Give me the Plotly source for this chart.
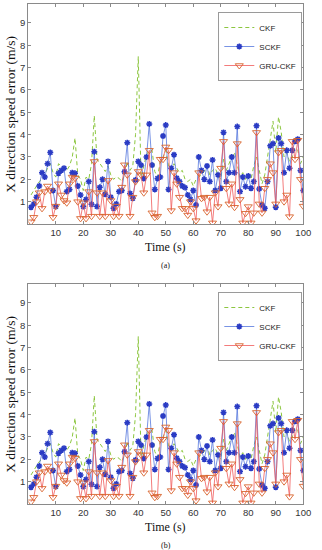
import plotly.graph_objects as go

x_time = list(range(1, 101))

ckf = [1.3, 1.5, 1.7, 1.9, 2.0, 2.2, 2.5, 2.7, 2.3, 2.1,
       2.7, 2.6, 2.5, 2.4, 2.6, 3.0, 3.85, 2.2, 2.0, 1.5,
       2.1, 2.0, 2.7, 4.85, 2.9, 2.7, 2.5, 2.35, 2.6, 2.2,
       2.0, 2.1, 2.05, 1.9, 2.2, 2.8, 2.4, 2.6, 4.0, 7.5,
       2.1, 2.6, 3.1, 3.3, 3.3, 2.35, 2.1, 2.8, 3.0, 3.3,
       2.6, 2.4, 2.7, 2.5, 2.3, 2.4, 2.0, 1.9, 2.0, 1.7,
       2.0, 2.1, 2.2, 2.35, 2.6, 2.2, 2.4, 2.5, 2.2, 2.0,
       2.9, 2.4, 2.7, 3.0, 3.2, 2.6, 2.1, 2.3, 2.0, 2.2,
       2.0, 2.6, 3.0, 2.4, 1.8, 2.2, 3.0, 3.9, 4.6, 3.2,
       4.8, 4.1, 3.0, 3.2, 2.8, 3.0, 3.4, 3.3, 2.7, 3.0]

sckf = [0.75, 0.9, 1.2, 1.7, 2.3, 2.1, 2.7, 3.2, 1.5, 0.78,
        2.27, 2.4, 2.5, 1.45, 1.55, 2.3, 2.27, 1.7, 1.3, 0.78,
        1.1, 1.9, 0.88, 3.24, 0.78, 1.64, 2.0, 1.33, 2.8, 1.2,
        0.7, 0.9, 1.45, 1.5, 2.34, 3.64, 1.37, 1.15, 1.97, 2.8,
        2.64, 2.04, 3.0, 4.48, 2.64, 1.55, 2.04, 2.1, 3.94, 4.43,
        1.55, 2.5, 3.1, 2.05, 1.9, 1.7, 1.63, 1.3, 1.1, 1.5,
        0.85, 3.0, 2.4, 2.0, 2.6, 1.9, 2.87, 1.5, 2.2, 1.6,
        4.1, 1.9, 2.3, 3.0, 2.3, 4.36, 1.45, 2.1, 1.67, 2.15,
        1.6, 1.9, 4.4, 1.57, 0.85, 0.7, 1.9, 3.5, 3.6, 0.75,
        3.85, 3.6, 2.3, 3.3, 2.5, 3.3, 3.7, 3.8, 2.4, 1.5]

gru_ckf = [0.1, 0.3, 1.0, 1.4, 0.7, 1.45, 1.7, 1.5, 0.3, 0.8,
           1.8, 1.3, 1.05, 0.95, 1.8, 2.1, 2.05, 1.0, 0.25, 0.95,
           0.25, 1.45, 0.35, 2.8, 1.4, 0.35, 1.4, 0.35, 1.95, 1.05,
           0.35, 0.8, 0.35, 1.65, 2.65, 2.2, 0.35, 1.2, 1.9, 2.35,
           2.2, 1.4, 2.2, 3.3, 0.5, 0.3, 0.35, 2.9, 2.9, 3.45,
           3.3, 0.6, 2.3, 1.8, 1.2, 0.7, 0.7, 0.4, 1.0, 0.7,
           0.15, 2.3, 1.15, 1.2, 0.55, 1.2, 0.05, 1.4, 0.78, 2.5,
           3.7, 1.6, 0.9, 1.8, 0.75, 3.6, 1.1, 0.05, 0.48, 0.78,
           0.05, 0.5, 4.1, 0.9, 0.5, 1.6, 2.0, 2.7, 2.3, 0.9,
           3.2, 3.3, 1.0, 1.3, 0.33, 3.7, 2.9, 3.75, 2.0, 0.8]

x_ticks = [10, 20, 30, 40, 50, 60, 70, 80, 90, 100]
y_ticks = [1, 2, 3, 4, 5, 6, 7, 8, 9]

CKF_COLOR = "#8cc63f"
SCKF_LINE = "#5577dd"
SCKF_MARK = "#2a3bc4"
GRU_LINE = "#f05a5a"
GRU_MARK = "#d8642e"

W, H = 322, 550
x_dom = [29 / W, 311 / W]
panels = [
    dict(top=4, bottom=224, sub="(a)", xa="x", ya="y", leg="legend"),
    dict(top=284, bottom=504, sub="(b)", xa="x2", ya="y2", leg="legend2"),
]

fig = go.Figure()
for i, p in enumerate(panels):
    fig.add_trace(go.Scatter(
        x=x_time, y=ckf, mode="lines", name="CKF",
        line=dict(color=CKF_COLOR, width=1, dash="4px,3px"),
        xaxis=p["xa"], yaxis=p["ya"], legend=p["leg"]))
    fig.add_trace(go.Scatter(
        x=x_time, y=sckf, mode="lines+markers", name="SCKF",
        line=dict(color=SCKF_LINE, width=0.8),
        marker=dict(symbol="asterisk-open", size=5, color=SCKF_MARK,
                    line=dict(color=SCKF_MARK, width=1.5)),
        xaxis=p["xa"], yaxis=p["ya"], legend=p["leg"]))
    fig.add_trace(go.Scatter(
        x=x_time, y=gru_ckf, mode="lines+markers", name="GRU-CKF",
        line=dict(color=GRU_LINE, width=0.8),
        marker=dict(symbol="triangle-down-open", size=7, color=GRU_MARK,
                    line=dict(color=GRU_MARK, width=0.9)),
        xaxis=p["xa"], yaxis=p["ya"], legend=p["leg"]))

axis_common = dict(showline=True, linecolor="#8a8a8a", linewidth=1, mirror="ticks",
                   ticks="inside", ticklen=3, tickcolor="#8a8a8a",
                   showgrid=False, zeroline=False, ticklabeloverflow="allow",
                   tickfont=dict(family="Liberation Sans, Arial, sans-serif", size=9.5, color="#333333"))

layout = dict(width=W, height=H, margin=dict(l=0, r=0, t=0, b=0),
              paper_bgcolor="white", plot_bgcolor="white", annotations=[])

for i, p in enumerate(panels):
    sfx = "" if i == 0 else "2"
    ydom = [1 - p["bottom"] / H, 1 - p["top"] / H]
    layout["xaxis" + sfx] = dict(axis_common, domain=x_dom, range=[0, 100],
                                 tickvals=x_ticks, anchor="y" + sfx)
    layout["yaxis" + sfx] = dict(axis_common, domain=ydom, range=[0, 9.85],
                                 tickvals=y_ticks, anchor="x" + sfx)
    layout[p["leg"]] = dict(x=310 / W, xanchor="right", y=1 - (p["top"] + 8) / H, yanchor="top",
                            bgcolor="white", bordercolor="#9a9a9a", borderwidth=1,
                            font=dict(family="Liberation Sans Narrow, Liberation Sans, Arial, sans-serif",
                                      size=8, color="#222222"),
                            itemwidth=30, tracegroupgap=0)
    layout["annotations"] += [
        dict(text="Time (s)", x=(29 + 311) / 2 / W, y=1 - (p["bottom"] + 23) / H,
             xref="paper", yref="paper", showarrow=False, xanchor="center", yanchor="middle",
             font=dict(family="Liberation Serif, Times New Roman, serif", size=12, color="#111111")),
        dict(text=p["sub"], x=(29 + 311) / 2 / W, y=1 - (p["bottom"] + 41) / H,
             xref="paper", yref="paper", showarrow=False, xanchor="center", yanchor="middle",
             font=dict(family="Liberation Serif, Times New Roman, serif", size=8, color="#111111")),
        dict(text="X direction speed error (m/s)", x=10 / W, y=1 - (p["top"] + p["bottom"]) / 2 / H,
             xref="paper", yref="paper", showarrow=False, textangle=-90,
             xanchor="center", yanchor="middle",
             font=dict(family="Liberation Serif, Times New Roman, serif", size=13.5, color="#111111")),
    ]

fig.update_layout(**layout)
fig.write_html("out.html", config={"displayModeBar": False},
               post_script="document.body.style.margin='0';document.body.style.overflow='hidden';")
